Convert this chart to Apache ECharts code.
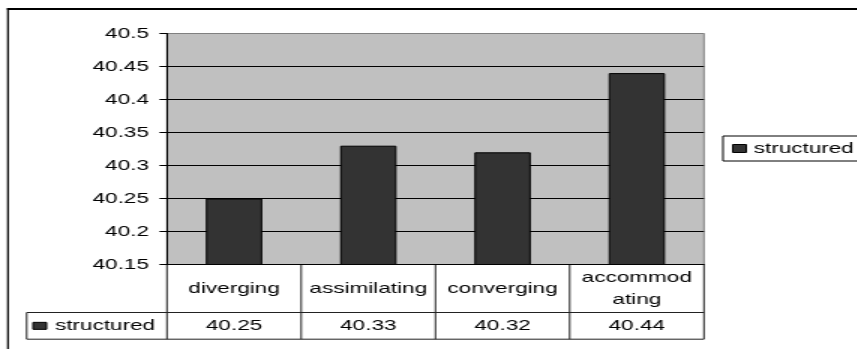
<!DOCTYPE html>
<html>
<head>
<meta charset="utf-8">
<title>structured</title>
<script src="https://cdn.jsdelivr.net/npm/echarts@6/dist/echarts.min.js"></script>
<style>
  html, body { margin: 0; padding: 0; background: #fff; overflow: hidden; }
  #wrap { width: 857px; height: 349px; overflow: hidden; position: relative; }
  /* the original picture is stretched sideways, so the chart is drawn narrow and widened */
  #chart { width: 572px; height: 349px; transform: scaleX(1.5); transform-origin: 0 0; }
</style>
</head>
<body>
<div id="wrap"><div id="chart"></div></div>
<script>
  // datos
  const categories = ['diverging', 'assimilating', 'converging', 'accommodating'];
  const tableLabels = ['diverging', 'assimilating', 'converging', 'accommod\nating'];
  const seriesName = 'structured';
  const structured = [40.25, 40.33, 40.32, 40.44];
  const yMin = 40.15, yMax = 40.5, yStep = 0.05;

  const font = 'Arial, "Liberation Sans", sans-serif';
  const barColor = '#333333';

  var myChart = echarts.init(document.getElementById('chart'));

  // split line colours: black, the top one grey like the plot border
  let nTicks = Math.round((yMax - yMin) / yStep) + 1;
  let splitColors = [];
  for (let i = 0; i < nTicks; i++) splitColors.push(i === nTicks - 1 ? '#808080' : '#000000');

  var option = {
    animation: false,
    backgroundColor: '#ffffff',
    textStyle: { fontFamily: font },
    grid: {
      left: 111.3, right: 102.7, top: 33.5, bottom: 84.5,
      show: true, backgroundColor: '#c0c0c0', borderColor: '#808080', borderWidth: 1
    },
    legend: {
      data: [seriesName],
      left: 482, top: 136,
      orient: 'vertical',
      padding: [5, 10, 5, 6],
      itemWidth: 9, itemHeight: 8,
      borderColor: '#000', borderWidth: 1, borderRadius: 0,
      backgroundColor: '#fff',
      icon: 'rect',
      itemStyle: { color: barColor, borderColor: '#000', borderWidth: 1 },
      textStyle: { fontSize: 15, color: '#000', fontFamily: font }
    },
    xAxis: {
      type: 'category',
      data: categories,
      axisLine: { show: true, lineStyle: { color: '#000', width: 1 } },
      axisTick: { show: false },
      axisLabel: { show: false },
      splitLine: { show: false }
    },
    yAxis: {
      type: 'value',
      min: yMin, max: yMax, interval: yStep,
      axisLine: { show: true, lineStyle: { color: '#000', width: 1 } },
      axisTick: { show: true, length: 5, lineStyle: { color: '#000' } },
      axisLabel: {
        margin: 12, fontSize: 15, color: '#000', fontFamily: font,
        formatter: function (v) { return String(parseFloat(v.toFixed(2))); }
      },
      splitLine: { show: true, lineStyle: { color: splitColors, width: 1 } }
    },
    series: [
      {
        name: seriesName,
        type: 'bar',
        barWidth: '42%',
        data: structured,
        itemStyle: { color: barColor, borderColor: '#000', borderWidth: 1 }
      }
    ]
  };

  myChart.setOption(option);

  // data table under the plot, placed from the axes
  function buildTable() {
    let cx = categories.map((c, i) => myChart.convertToPixel({ xAxisIndex: 0 }, i));
    let half = (cx[1] - cx[0]) / 2;
    let bounds = [cx[0] - half];
    cx.forEach(c => bounds.push(c + half));
    let yTop = myChart.convertToPixel({ yAxisIndex: 0 }, yMin);
    let r1 = yTop + 48;
    let r2 = r1 + 26.7;
    let leftHead = 17.8;
    let right = bounds[bounds.length - 1];
    let lineStyle = { stroke: '#222', lineWidth: 1 };
    let els = [];

    // frame around the figure
    els.push({ type: 'rect', shape: { x: 4.7, y: 8, width: 700, height: 2 }, style: { fill: '#000' } });
    els.push({ type: 'rect', shape: { x: 4.7, y: 8, width: 1.2, height: 400 }, style: { fill: '#000' } });

    els.push({ type: 'line', shape: { x1: leftHead, y1: r1, x2: right, y2: r1 }, style: lineStyle });
    els.push({ type: 'line', shape: { x1: leftHead, y1: r2, x2: right, y2: r2 }, style: lineStyle });
    els.push({ type: 'line', shape: { x1: leftHead, y1: r1, x2: leftHead, y2: r2 }, style: lineStyle });
    bounds.forEach(b => {
      els.push({ type: 'line', shape: { x1: b, y1: yTop, x2: b, y2: r2 }, style: lineStyle });
    });

    tableLabels.forEach((t, i) => {
      els.push({
        type: 'text', x: cx[i], y: (yTop + r1) / 2,
        style: { text: t, fill: '#000', font: '15px ' + font, align: 'center', verticalAlign: 'middle', lineHeight: 22 }
      });
      els.push({
        type: 'text', x: cx[i], y: (r1 + r2) / 2,
        style: { text: structured[i].toFixed(2), fill: '#000', font: '15px ' + font, align: 'center', verticalAlign: 'middle' }
      });
    });

    // row header with legend key
    els.push({
      type: 'rect', shape: { x: 22, y: (r1 + r2) / 2 - 3.5, width: 9, height: 7 },
      style: { fill: barColor, stroke: '#000', lineWidth: 1 }
    });
    els.push({
      type: 'text', x: 36.7, y: (r1 + r2) / 2,
      style: { text: seriesName, fill: '#000', font: '15px ' + font, align: 'left', verticalAlign: 'middle' }
    });

    myChart.setOption({ graphic: { elements: els } });
  }
  buildTable();
</script>
</body>
</html>
